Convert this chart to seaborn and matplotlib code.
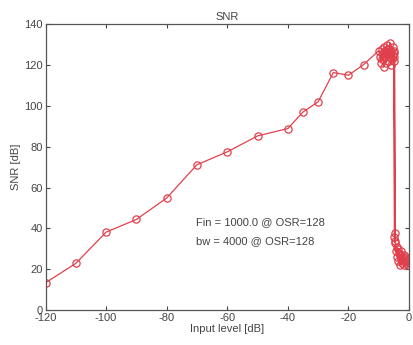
import matplotlib
matplotlib.use("Agg")
import matplotlib.pyplot as plt
import seaborn as sns
import pandas as pd

# ---- data ----
x_sweep = [-120, -110, -100, -90, -80, -70, -60, -50, -40, -35, -30, -25, -20, -15, -10]
snr_sweep = [13.4, 22.9, 38.2, 44.4, 54.9, 71.2, 77.5, 85.3, 88.9, 97.0, 102.0, 116.3, 115.0, 120.2, 127.0]

x_fine_high = [-9.6, -9.3, -9.0, -8.8, -8.6, -8.4, -8.2, -8.0, -7.8, -7.6, -7.4, -7.2,
               -7.0, -6.8, -6.6, -6.4, -6.2, -6.0, -5.8, -5.6, -5.4, -5.2, -5.0, -4.9]
snr_fine_high = [124, 121, 128, 123, 126, 119, 129, 124, 127, 121, 130, 125,
                 122, 128, 124, 131, 126, 120, 127, 123, 129, 125, 122, 127]

x_fine_edge = [-4.8, -4.9, -4.7, -4.8, -4.6]
snr_fine_edge = [36, 124, 33, 126, 38]

x_fine_low = [-4.5, -4.3, -4.1, -3.9, -3.7, -3.5, -3.3, -3.1, -2.9, -2.7, -2.5, -2.3,
              -2.1, -1.9, -1.7, -1.5, -1.3, -1.1, -0.9, -0.7, -0.5, -0.3, -0.1]
snr_fine_low = [34, 29, 31, 26, 30, 24, 28, 22, 27, 25, 29, 23,
                26, 24, 27, 22, 25, 23, 26, 24, 22, 25, 23]

note_lines = ["Fin = 1000.0 @ OSR=128", "bw = 4000 @ OSR=128"]

x_ticks = [-120, -100, -80, -60, -40, -20, 0]
y_ticks = [0, 20, 40, 60, 80, 100, 120, 140]

df = pd.DataFrame({
    "level": x_sweep + x_fine_high + x_fine_edge + x_fine_low,
    "snr": snr_sweep + snr_fine_high + snr_fine_edge + snr_fine_low,
})

sns.set_style("white")
plt.rcParams["font.family"] = ["Liberation Sans", "DejaVu Sans"]
plt.rcParams["axes.unicode_minus"] = False

fig = plt.figure(figsize=(4.14, 3.45), dpi=100)
ax = fig.add_axes([0.110, 0.101, 0.878, 0.829])

red = "#e0404c"
sns.lineplot(data=df, x="level", y="snr", sort=False, estimator=None, ax=ax,
             color=red, linewidth=0.9, marker="o", markersize=5.2,
             markerfacecolor="none", markeredgecolor=red, markeredgewidth=0.9)

ax.set_xlim(-120, 0)
ax.set_ylim(0, 140)
ax.set_xticks(x_ticks)
ax.set_yticks(y_ticks)
ax.tick_params(direction="in", length=3, width=0.8, labelsize=8, colors="#444444",
               top=True, right=True, bottom=True, left=True, pad=2)
for s in ax.spines.values():
    s.set_color("#555555")
    s.set_linewidth(0.9)

ax.set_title("SNR", fontsize=8, color="#444444", pad=3)
ax.set_xlabel("Input level [dB]", fontsize=8, color="#444444", labelpad=1)
ax.set_ylabel("SNR [dB]", fontsize=8, color="#444444", labelpad=2)

ax.text(-70.2, 43, note_lines[0], fontsize=8, color="#444444", va="center", ha="left")
ax.text(-70.2, 34, note_lines[1], fontsize=8, color="#444444", va="center", ha="left")

fig.savefig("out.png", dpi=100)
